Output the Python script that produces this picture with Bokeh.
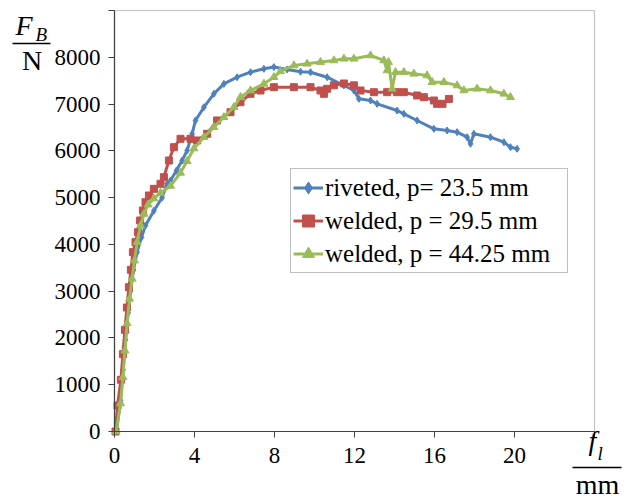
from bokeh.plotting import figure
from bokeh.models import (Range1d, FixedTicker, Legend, LegendItem, Label, Arrow, BoxAnnotation)
from bokeh.embed import file_html
from bokeh.resources import INLINE

# ---- data ----
riveted_x = [0.1, 0.3, 0.43, 0.55, 0.68, 0.8, 0.95, 1.13, 1.35, 1.55, 1.97, 2.38, 2.63, 2.8,
             3.1, 3.38, 3.63, 3.88, 4.05, 4.47, 4.97, 5.47, 6.13, 6.8, 7.47, 7.97, 8.63, 9.3,
             9.8, 10.63, 11.47, 11.97, 12.22, 12.8, 13.13, 14.13, 14.47, 15.13, 15.97, 16.63,
             17.13, 17.63, 17.8, 17.97, 18.8, 19.47, 19.8, 20.13]
riveted_y = [0, 663, 1319, 1960, 2537, 3000, 3450, 3834, 4150, 4404, 4720, 5000, 5295, 5366,
             5580, 5793, 6007, 6364, 6649, 6933, 7219, 7432, 7574, 7681, 7754, 7790, 7740, 7690,
             7681, 7574, 7397, 7290, 7112, 7076, 7005, 6862, 6791, 6649, 6471, 6435,
             6399, 6292, 6150, 6364, 6292, 6185, 6078, 6043]

welded29_x = [0.05, 0.15, 0.32, 0.42, 0.52, 0.62, 0.72, 0.82, 0.92, 1.05, 1.17, 1.28, 1.42,
              1.55, 1.72, 1.97, 2.3, 2.47, 2.72, 2.97, 3.3, 3.8, 4.13, 4.63, 5.13, 5.8, 6.3,
              6.8, 7.3, 7.97, 8.97, 9.8, 10.3, 10.47, 10.63, 10.97, 11.47, 11.97, 12.3, 12.97,
              13.63, 14.13, 14.47, 15.13, 15.47, 15.97, 16.13, 16.4, 16.72]
welded29_y = [0, 556, 1105, 1653, 2173, 2650, 3085, 3456, 3834, 4047, 4261, 4511, 4725,
              4902, 5045, 5188, 5295, 5437, 5793, 6078, 6257, 6257, 6221, 6364, 6649, 6826, 7040,
              7219, 7290, 7361, 7361, 7361, 7290, 7219, 7326, 7400, 7440, 7400, 7290, 7254,
              7254, 7254, 7254, 7183, 7147, 7076, 7005, 7005, 7110]

welded44_x = [0.08, 0.3, 0.42, 0.52, 0.63, 0.75, 0.88, 1.0, 1.13, 1.3, 1.47, 1.68, 1.97, 2.3,
              2.8, 3.3, 3.63, 3.97, 4.47, 4.97, 5.47, 5.97, 6.3, 6.8, 7.47, 7.97, 8.3, 8.97,
              9.63, 10.3, 10.97, 11.47, 11.97, 12.8, 13.47, 13.63, 13.7, 13.88, 14.05, 14.47,
              14.97, 15.63, 15.88, 16.47, 17.13, 17.47, 18.13, 18.8, 19.47, 19.8]
welded44_y = [0, 600, 1160, 1730, 2310, 2836, 3264, 3655, 4047, 4404, 4650, 4850, 4980, 5100,
              5250, 5530, 5780, 6050, 6290, 6506, 6719, 6933, 7147, 7290, 7432, 7574, 7700, 7825,
              7861, 7897, 7932, 7968, 7968, 8038, 7932, 7718, 7895, 7326, 7681, 7681,
              7647, 7611, 7468, 7468, 7397, 7290, 7326, 7290, 7219, 7147]

legend_labels = ["riveted, p= 23.5 mm", "welded, p = 29.5 mm", "welded, p = 44.25 mm"]
x_ticks = [0, 4, 8, 12, 16, 20, 24]
y_ticks = [0, 1000, 2000, 3000, 4000, 5000, 6000, 7000, 8000, 9000]
X_MAX, Y_MAX = 24, 9000

BLUE, RED, GREEN = "#4F81BD", "#C0504D", "#9BBB59"
FONT = "Liberation Serif"
AX = "#404040"

W, H = 630, 499
BL, BT, BR, BB = 114, 10, 594, 431     # axes box in picture px
sx = (BR - BL) / X_MAX
sy = (BB - BT) / Y_MAX
x_lo, x_hi = -BL / sx, X_MAX + (W - BR) / sx
y_lo, y_hi = -(H - BB) / sy, Y_MAX + BT / sy

p = figure(frame_width=W, frame_height=H, output_backend="svg", toolbar_location=None,
           x_range=Range1d(x_lo, x_hi), y_range=Range1d(y_lo, y_hi),
           min_border_left=0, min_border_top=0, min_border_right=0, min_border_bottom=0)
p.background_fill_color = "white"
p.border_fill_color = "white"
p.outline_line_color = None
p.xgrid.visible = False
p.ygrid.visible = False

for ax in (p.xaxis[0], p.yaxis[0]):
    ax.fixed_location = 0
    ax.axis_line_color = AX
    ax.axis_line_width = 1.2
    ax.major_tick_line_color = AX
    ax.major_tick_in = 0
    ax.major_tick_out = 6
    ax.minor_tick_line_color = None
    ax.major_label_text_font = FONT
    ax.major_label_text_font_size = "23px"
    ax.major_label_text_color = "black"

p.xaxis.bounds = (0, X_MAX)
p.yaxis.bounds = (0, Y_MAX)
p.xaxis.ticker = FixedTicker(ticks=x_ticks)
p.yaxis.ticker = FixedTicker(ticks=y_ticks)
p.xaxis.major_label_overrides = {24: ""}
p.yaxis.major_label_overrides = {9000: ""}
p.xaxis.major_label_standoff = 10
p.yaxis.major_label_standoff = 8

# the plot-area border (top and right edges)
p.add_layout(BoxAnnotation(left=0, right=X_MAX, bottom=0, top=Y_MAX, fill_alpha=0,
                           line_color=AX, line_width=1.2, level="underlay"))

r1l = p.line(riveted_x, riveted_y, line_color=BLUE, line_width=3)
r1m = p.scatter(riveted_x, riveted_y, marker="diamond", size=7, color=BLUE)
r2l = p.line(welded29_x, welded29_y, line_color=RED, line_width=3)
r2m = p.scatter(welded29_x, welded29_y, marker="square", size=7, color=RED)
r3l = p.line(welded44_x, welded44_y, line_color=GREEN, line_width=3)
r3m = p.scatter(welded44_x, welded44_y, marker="triangle", size=8, color=GREEN)

legend = Legend(items=[
    LegendItem(label=legend_labels[0], renderers=[r1l, r1m]),
    LegendItem(label=legend_labels[1], renderers=[r2l, r2m]),
    LegendItem(label=legend_labels[2], renderers=[r3l, r3m]),
], location=(290, H - 273))
legend.label_text_font = FONT
legend.label_text_font_size = "25px"
legend.label_text_color = "black"
legend.label_height = 33
legend.glyph_height = 33
legend.glyph_width = 30
legend.label_standoff = 2
legend.label_width = 240
legend.spacing = 0
legend.padding = 2
legend.margin = 0
legend.border_line_color = "#808080"
legend.border_line_width = 1
legend.background_fill_color = "white"
legend.background_fill_alpha = 1
p.add_layout(legend, "center")


def dx(px):
    return (px - BL) / sx


def dy(py):
    return (BB - py) / sy


def lab(text, px, py, size, style="normal", align="left"):
    p.add_layout(Label(x=dx(px), y=dy(py), text=text, text_font=FONT,
                       text_font_size=size, text_font_style=style, text_color="black",
                       text_align=align, text_baseline="alphabetic"))


def bar(px0, px1, py):
    p.add_layout(Arrow(x_start=dx(px0), y_start=dy(py), x_end=dx(px1), y_end=dy(py),
                       start=None, end=None, line_color="black", line_width=1.5))


# y quantity: F_B / N
lab("F", 15, 25, "28px", "italic")
lab("B", 35, 34, "19px", "italic")
bar(12, 50, 43)
lab("N", 31.5, 60, "28px", "normal", "center")

# x quantity: f_l / mm
lab("f", 588, 440, "28px", "italic")
lab("l", 597, 453, "19px", "italic")
bar(572, 621, 467)
lab("mm", 597, 484, "28px", "normal", "center")

open("out.html", "w").write(file_html(p, INLINE))
